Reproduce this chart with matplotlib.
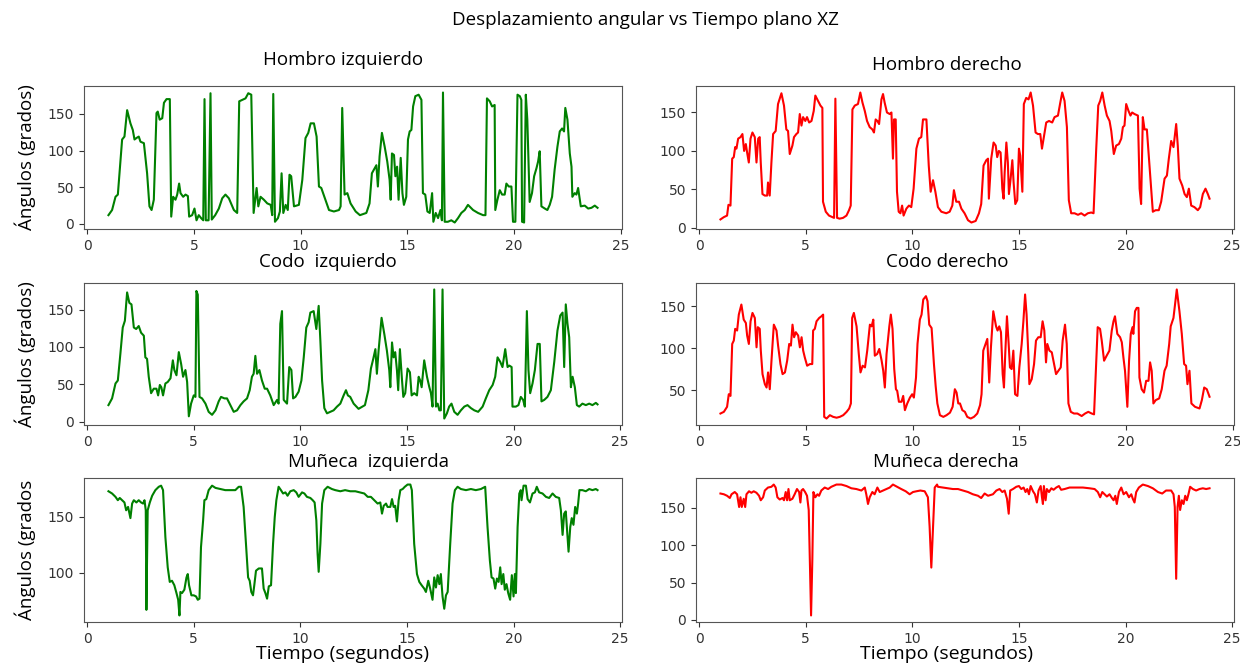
import numpy as np
import matplotlib
matplotlib.use("Agg")
import matplotlib.pyplot as plt
from matplotlib.ticker import MultipleLocator

# Hombro izquierdo
hi_t = [1.0, 1.17, 1.33, 1.44, 1.64, 1.75, 1.875, 2.03, 2.14, 2.22, 2.31, 2.42, 2.5, 2.66, 2.81, 2.92,
        3.02, 3.125, 3.25, 3.31, 3.4, 3.52, 3.6, 3.72, 3.875, 3.94, 4.03, 4.14, 4.22, 4.31, 4.375, 4.5,
        4.61, 4.72, 4.78, 4.92, 5.03, 5.125, 5.23, 5.34, 5.44, 5.5, 5.56, 5.69, 5.78, 5.84, 6.0, 6.17,
        6.33, 6.48, 6.64, 6.875, 7.03, 7.125, 7.27, 7.42, 7.55, 7.69, 7.8, 7.94, 8.02, 8.125, 8.28, 8.44,
        8.6, 8.67, 8.72, 8.8, 8.94, 9.03, 9.11, 9.19, 9.3, 9.4, 9.48, 9.56, 9.69, 9.92, 10.08, 10.23,
        10.36, 10.47, 10.625, 10.75, 10.86, 10.97, 11.14, 11.33, 11.56, 11.8, 11.875, 11.95, 12.06, 12.19,
        12.34, 12.58, 12.78, 13.08, 13.23, 13.34, 13.47, 13.55, 13.62, 13.7, 13.81, 13.94, 14.06, 14.17,
        14.22, 14.28, 14.375, 14.44, 14.52, 14.59, 14.69, 14.77, 14.84, 14.95, 15.03, 15.11, 15.19, 15.27,
        15.375, 15.53, 15.66, 15.73, 15.84, 15.94, 16.05, 16.16, 16.22, 16.33, 16.44, 16.55, 16.62, 16.67,
        16.75, 16.9, 17.06, 17.22, 17.375, 17.53, 17.69, 17.84, 18.08, 18.31, 18.55, 18.66, 18.73, 18.86,
        18.97, 19.09, 19.12, 19.22, 19.33, 19.44, 19.56, 19.64, 19.75, 19.875, 19.95, 20.06, 20.16, 20.27,
        20.34, 20.375, 20.47, 20.55, 20.62, 20.73, 20.84, 20.94, 21.05, 21.125, 21.2, 21.28, 21.44, 21.56,
        21.67, 21.78, 21.9, 22.03, 22.14, 22.25, 22.34, 22.4, 22.5, 22.61, 22.69, 22.73, 22.84, 22.92,
        23.0, 23.125, 23.31, 23.47, 23.625, 23.78, 23.91]
hi_v = [12, 19, 37, 40, 115, 119, 155, 137, 128, 115, 117, 119, 112, 110, 69, 24,
        19, 33, 151, 153, 142, 144, 165, 170, 170, 10, 37, 33, 40, 55, 42, 37,
        40, 38, 10, 12, 21, 5, 12, 8, 5, 170, 5, 5, 178, 6, 12, 21,
        35, 40, 35, 19, 15, 167, 169, 171, 178, 176, 15, 49, 24, 37, 33, 28,
        26, 12, 177, 3, 8, 17, 69, 15, 26, 19, 67, 65, 24, 26, 60, 117,
        124, 137, 137, 119, 51, 49, 35, 19, 17, 19, 24, 158, 40, 42,
        28, 17, 12, 15, 28, 69, 76, 80, 51, 92, 124, 105, 85, 60,
        33, 96, 94, 65, 78, 33, 90, 42, 26, 37, 115, 126, 128, 160,
        174, 176, 169, 42, 40, 17, 15, 42, 3, 15, 8, 19, 5, 179,
        3, 3, 5, 2, 8, 15, 19, 26, 19, 15, 12, 12, 171, 167,
        160, 162, 19, 33, 46, 40, 40, 55, 51, 51, 3, 3, 176, 174,
        169, 3, 2, 176, 142, 30, 42, 65, 76, 85, 99, 24, 21, 19,
        26, 37, 74, 105, 126, 130, 126, 158, 142, 96, 78, 37, 42, 40,
        49, 24, 25, 21, 22, 25, 22]

# Hombro derecho
hd_t = [1.0, 1.16, 1.31, 1.375, 1.47, 1.55, 1.625, 1.69, 1.75, 1.83, 1.94, 2.03, 2.11, 2.19, 2.25, 2.33,
        2.41, 2.5, 2.61, 2.69, 2.77, 2.84, 2.89, 2.97, 3.08, 3.19, 3.23, 3.31, 3.39, 3.47, 3.59, 3.7,
        3.86, 3.98, 4.09, 4.17, 4.25, 4.375, 4.45, 4.56, 4.64, 4.72, 4.8, 4.875, 4.98, 5.06, 5.16, 5.27,
        5.375, 5.45, 5.58, 5.69, 5.78, 5.81, 5.94, 6.09, 6.25, 6.33, 6.39, 6.47, 6.59, 6.75, 6.91, 7.03,
        7.11, 7.19, 7.3, 7.45, 7.56, 7.66, 7.77, 7.875, 8.0, 8.125, 8.2, 8.28, 8.36, 8.44, 8.55, 8.625,
        8.7, 8.81, 8.94, 9.02, 9.09, 9.14, 9.22, 9.28, 9.36, 9.44, 9.52, 9.59, 9.72, 9.84, 9.95, 10.06,
        10.19, 10.31, 10.42, 10.5, 10.66, 10.77, 10.86, 10.97, 11.08, 11.2, 11.36, 11.59, 11.75, 11.875,
        11.95, 12.06, 12.19, 12.3, 12.45, 12.61, 12.77, 12.97, 13.125, 13.23, 13.34, 13.47, 13.55, 13.59,
        13.7, 13.81, 13.91, 13.98, 14.06, 14.14, 14.22, 14.28, 14.33, 14.41, 14.48, 14.53, 14.61, 14.69,
        14.75, 14.83, 14.92, 15.0, 15.06, 15.16, 15.23, 15.34, 15.45, 15.55, 15.66, 15.78, 15.89, 16.0,
        16.08, 16.17, 16.28, 16.41, 16.56, 16.67, 16.83, 16.94, 17.03, 17.14, 17.25, 17.34, 17.45, 17.61,
        17.77, 17.92, 18.08, 18.23, 18.39, 18.5, 18.625, 18.72, 18.81, 18.91, 19.02, 19.125, 19.25, 19.33,
        19.45, 19.56, 19.69, 19.8, 19.875, 19.95, 20.03, 20.14, 20.23, 20.31, 20.42, 20.58, 20.66, 20.73,
        20.81, 20.89, 21.0, 21.09, 21.2, 21.28, 21.41, 21.56, 21.67, 21.83, 21.94, 22.03, 22.14, 22.25,
        22.375, 22.45, 22.53, 22.66, 22.77, 22.875, 22.97, 23.08, 23.23, 23.39, 23.5, 23.625, 23.75, 23.86,
        23.94]
hd_v = [11, 14, 16, 30, 29, 90, 92, 105, 103, 116, 118, 122, 100, 109, 98, 85,
        116, 124, 118, 85, 116, 118, 85, 44, 42, 42, 59, 42, 85, 122, 126, 161,
        175, 159, 128, 126, 96, 107, 118, 122, 124, 148, 133, 144, 139, 144, 137, 139,
        152, 172, 165, 159, 156, 34, 21, 16, 14, 13, 168, 13, 12, 13, 16, 23,
        29, 154, 159, 161, 176, 163, 152, 139, 131, 128, 124, 141, 139, 135, 167, 174,
        163, 150, 148, 150, 90, 141, 141, 47, 21, 19, 29, 16, 25, 29, 27, 51,
        103, 116, 118, 141, 141, 81, 47, 62, 47, 27, 21, 19, 21, 29,
        49, 34, 34, 25, 19, 10, 7, 9, 19, 31, 81, 88, 90, 38,
        90, 111, 107, 92, 100, 98, 51, 38, 72, 111, 85, 44, 64, 88,
        59, 31, 36, 103, 94, 47, 161, 169, 167, 176, 159, 124, 122, 122,
        103, 118, 137, 139, 137, 144, 146, 163, 176, 165, 131, 36, 19, 19,
        17, 19, 16, 19, 20, 19, 103, 159, 165, 176, 159, 146, 139, 126,
        96, 107, 109, 116, 131, 133, 161, 152, 146, 150, 148, 146, 51, 31,
        144, 128, 128, 94, 51, 21, 23, 23, 34, 64, 68, 90, 113, 105,
        135, 107, 64, 55, 44, 40, 51, 29, 27, 23, 27, 44, 51, 44,
        38]

# Codo izquierdo
ci_t = [1.0, 1.17, 1.33, 1.44, 1.56, 1.67, 1.77, 1.875, 1.98, 2.08, 2.19, 2.3, 2.42, 2.53, 2.66, 2.73,
        2.81, 2.89, 3.0, 3.125, 3.25, 3.33, 3.41, 3.48, 3.56, 3.67, 3.78, 3.91, 4.02, 4.09, 4.19, 4.3,
        4.41, 4.5, 4.61, 4.69, 4.77, 4.875, 5.0, 5.08, 5.125, 5.19, 5.27, 5.39, 5.55, 5.7, 5.86, 6.02,
        6.17, 6.28, 6.44, 6.56, 6.72, 6.875, 7.03, 7.19, 7.34, 7.5, 7.625, 7.73, 7.81, 7.89, 7.97, 8.08,
        8.2, 8.33, 8.44, 8.59, 8.75, 8.91, 8.98, 9.06, 9.14, 9.22, 9.375, 9.48, 9.58, 9.66, 9.77, 9.92,
        10.05, 10.16, 10.28, 10.39, 10.47, 10.625, 10.75, 10.86, 10.94, 11.02, 11.125, 11.25, 11.4, 11.56,
        11.72, 11.875, 12.03, 12.14, 12.23, 12.34, 12.5, 12.73, 13.03, 13.19, 13.31, 13.42, 13.52, 13.59,
        13.67, 13.81, 13.94, 14.06, 14.17, 14.22, 14.3, 14.375, 14.45, 14.53, 14.59, 14.67, 14.77, 14.83,
        14.92, 15.03, 15.14, 15.22, 15.34, 15.47, 15.55, 15.62, 15.69, 15.81, 15.94, 16.05, 16.125, 16.2,
        16.28, 16.36, 16.44, 16.52, 16.59, 16.67, 16.75, 16.875, 16.98, 17.09, 17.22, 17.375, 17.53, 17.69,
        17.84, 18.0, 18.16, 18.34, 18.55, 18.7, 18.86, 19.02, 19.14, 19.25, 19.375, 19.48, 19.61, 19.72,
        19.8, 19.91, 19.95, 20.11, 20.23, 20.34, 20.45, 20.53, 20.625, 20.7, 20.78, 20.89, 21.0, 21.125,
        21.23, 21.31, 21.44, 21.59, 21.75, 21.91, 22.06, 22.19, 22.3, 22.375, 22.45, 22.53, 22.61, 22.69,
        22.77, 22.875, 22.97, 23.08, 23.23, 23.39, 23.55, 23.7, 23.86, 23.94]
ci_v = [22, 31, 51, 55, 91, 126, 135, 173, 159, 157, 126, 124, 128, 119, 115, 86,
        84, 60, 38, 44, 44, 35, 49, 46, 35, 51, 53, 58, 82, 69, 62, 93,
        77, 60, 69, 53, 7, 24, 35, 33, 175, 170, 33, 31, 24, 13, 9, 15,
        27, 33, 31, 31, 22, 13, 15, 22, 27, 31, 42, 60, 64, 88, 64, 69,
        55, 44, 44, 35, 22, 29, 24, 131, 148, 29, 24, 73, 69, 31, 33, 40,
        55, 86, 126, 133, 146, 148, 124, 155, 108, 55, 18, 11, 13, 15,
        20, 24, 35, 42, 35, 33, 24, 17, 22, 42, 71, 84, 97, 64,
        95, 139, 117, 95, 69, 46, 106, 86, 93, 69, 42, 97, 55, 33,
        38, 71, 66, 35, 38, 35, 60, 55, 46, 82, 60, 46, 38, 20,
        177, 20, 24, 15, 15, 177, 4, 11, 20, 24, 13, 9, 15, 20,
        22, 18, 15, 13, 20, 31, 42, 49, 60, 86, 80, 73, 97, 73,
        75, 73, 20, 20, 22, 33, 29, 20, 148, 69, 38, 51, 69, 104,
        104, 27, 29, 33, 42, 80, 122, 142, 146, 73, 157, 131, 113, 46,
        60, 46, 22, 20, 24, 22, 24, 22, 25, 23]

# Codo derecho
cd_t = [1.0, 1.16, 1.31, 1.39, 1.47, 1.55, 1.625, 1.69, 1.78, 1.86, 1.98, 2.09, 2.19, 2.25, 2.33, 2.41,
        2.5, 2.61, 2.69, 2.75, 2.84, 2.89, 2.97, 3.08, 3.16, 3.23, 3.31, 3.39, 3.5, 3.625, 3.7, 3.81,
        3.91, 4.02, 4.125, 4.22, 4.3, 4.375, 4.45, 4.53, 4.64, 4.72, 4.8, 4.875, 4.95, 5.06, 5.19, 5.3,
        5.34, 5.42, 5.5, 5.625, 5.73, 5.81, 5.86, 5.97, 6.125, 6.28, 6.44, 6.59, 6.75, 6.91, 7.03, 7.11,
        7.17, 7.25, 7.375, 7.48, 7.56, 7.66, 7.77, 7.875, 8.0, 8.08, 8.16, 8.23, 8.34, 8.44, 8.55, 8.625,
        8.7, 8.78, 8.91, 8.98, 9.06, 9.14, 9.22, 9.28, 9.36, 9.48, 9.56, 9.64, 9.75, 9.875, 9.98, 10.06,
        10.16, 10.23, 10.34, 10.42, 10.5, 10.625, 10.7, 10.78, 10.89, 11.0, 11.08, 11.16, 11.28, 11.44,
        11.59, 11.75, 11.875, 11.98, 12.06, 12.14, 12.22, 12.33, 12.45, 12.56, 12.72, 12.875, 13.03, 13.16,
        13.23, 13.31, 13.39, 13.5, 13.59, 13.67, 13.78, 13.91, 13.98, 14.06, 14.14, 14.22, 14.28, 14.34,
        14.42, 14.5, 14.56, 14.64, 14.72, 14.8, 14.91, 15.0, 15.11, 15.19, 15.27, 15.34, 15.42, 15.47,
        15.58, 15.69, 15.78, 15.89, 16.0, 16.09, 16.17, 16.25, 16.31, 16.41, 16.52, 16.625, 16.72, 16.83,
        16.94, 17.03, 17.14, 17.22, 17.3, 17.41, 17.56, 17.72, 17.92, 18.08, 18.23, 18.39, 18.5, 18.59,
        18.67, 18.78, 18.86, 18.97, 19.09, 19.22, 19.33, 19.41, 19.48, 19.59, 19.72, 19.8, 19.875, 19.95,
        20.06, 20.14, 20.22, 20.3, 20.34, 20.42, 20.5, 20.58, 20.625, 20.73, 20.84, 20.94, 21.05, 21.125,
        21.2, 21.28, 21.39, 21.55, 21.67, 21.8, 21.9, 22.02, 22.09, 22.22, 22.375, 22.5, 22.61, 22.72,
        22.81, 22.875, 22.97, 23.06, 23.23, 23.44, 23.55, 23.66, 23.78, 23.91]
cd_v = [22, 24, 30, 45, 43, 105, 109, 123, 121, 140, 152, 134, 130, 115, 105, 132,
        142, 136, 101, 125, 123, 97, 69, 57, 53, 71, 51, 85, 128, 121, 103, 81,
        69, 71, 85, 105, 103, 128, 113, 119, 115, 101, 113, 97, 89, 79, 81, 81,
        121, 123, 132, 136, 138, 140, 18, 16, 20, 18, 17, 18, 20, 24, 28, 34,
        136, 142, 126, 93, 71, 79, 77, 97, 128, 126, 134, 91, 93, 99, 85, 73,
        53, 93, 126, 140, 123, 75, 51, 49, 36, 36, 43, 26, 34, 41, 45, 41,
        65, 105, 134, 140, 158, 162, 156, 128, 124, 81, 55, 34, 20, 18,
        20, 23, 30, 51, 47, 34, 34, 26, 24, 18, 16, 18, 22, 32,
        45, 97, 103, 111, 59, 101, 144, 126, 121, 126, 119, 69, 53, 93,
        138, 105, 77, 75, 97, 45, 43, 77, 105, 132, 164, 140, 93, 57,
        63, 81, 109, 113, 113, 132, 121, 83, 105, 97, 95, 81, 69, 73,
        77, 109, 128, 105, 34, 24, 22, 22, 19, 22, 24, 22, 21, 77,
        125, 123, 109, 85, 91, 97, 121, 132, 138, 117, 113, 107, 89, 73,
        30, 85, 117, 125, 117, 144, 148, 148, 65, 51, 47, 61, 61, 83,
        73, 34, 38, 40, 51, 73, 79, 105, 126, 136, 170, 144, 117, 81,
        79, 57, 73, 34, 30, 28, 38, 53, 51, 42]

# Muñeca izquierda
mi_t = [1.0, 1.17, 1.33, 1.44, 1.53, 1.64, 1.75, 1.83, 1.92, 2.03, 2.11, 2.19, 2.31, 2.42, 2.53, 2.625,
        2.69, 2.75, 2.78, 2.84, 2.94, 3.05, 3.2, 3.36, 3.47, 3.56, 3.67, 3.78, 3.875, 3.98, 4.09, 4.19,
        4.27, 4.33, 4.375, 4.45, 4.56, 4.66, 4.72, 4.78, 4.89, 5.0, 5.11, 5.19, 5.27, 5.34, 5.44, 5.5,
        5.59, 5.7, 5.86, 6.02, 6.25, 6.48, 6.72, 6.95, 7.11, 7.22, 7.34, 7.45, 7.55, 7.625, 7.7, 7.78,
        7.84, 7.92, 8.05, 8.2, 8.28, 8.36, 8.44, 8.52, 8.625, 8.72, 8.8, 8.875, 8.98, 9.09, 9.19, 9.3,
        9.4, 9.53, 9.69, 9.81, 9.92, 10.08, 10.19, 10.31, 10.47, 10.58, 10.67, 10.75, 10.81, 10.86,
        10.94, 11.02, 11.125, 11.28, 11.48, 11.64, 11.875, 12.1, 12.34, 12.58, 12.78, 13.0, 13.16, 13.31,
        13.47, 13.625, 13.75, 13.83, 13.91, 14.02, 14.09, 14.22, 14.3, 14.375, 14.45, 14.53, 14.61, 14.69,
        14.8, 14.9, 15.03, 15.16, 15.23, 15.34, 15.47, 15.58, 15.69, 15.81, 15.89, 16.0, 16.09, 16.2,
        16.28, 16.36, 16.44, 16.52, 16.59, 16.67, 16.75, 16.83, 16.91, 17.03, 17.14, 17.25, 17.375, 17.53,
        17.77, 18.0, 18.23, 18.47, 18.67, 18.78, 18.89, 18.97, 19.06, 19.14, 19.22, 19.3, 19.375, 19.44,
        19.52, 19.59, 19.67, 19.75, 19.84, 19.92, 20.0, 20.06, 20.11, 20.19, 20.27, 20.34, 20.375, 20.47,
        20.58, 20.66, 20.77, 20.89, 21.0, 21.09, 21.2, 21.36, 21.52, 21.67, 21.83, 21.98, 22.14, 22.22,
        22.3, 22.375, 22.45, 22.53, 22.58, 22.66, 22.73, 22.81, 22.89, 22.97, 23.03, 23.09, 23.23, 23.39,
        23.55, 23.7, 23.86, 23.94]
mi_v = [173, 171, 168, 165, 167, 165, 163, 156, 159, 149, 162, 165, 163, 165, 163, 162,
        165, 156, 67, 156, 163, 169, 174, 177, 178, 174, 132, 105, 92, 93, 89, 82,
        76, 62, 83, 82, 85, 96, 99, 89, 80, 80, 79, 76, 77, 123, 147, 165,
        166, 174, 178, 176, 175, 174, 174, 174, 177, 177, 159, 126, 96, 93, 83, 80,
        89, 102, 104, 104, 86, 82, 77, 88, 89, 126, 150, 165, 177, 174, 171, 172,
        169, 173, 174, 172, 168, 172, 171, 168, 167, 165, 163, 147, 117, 101,
        126, 162, 174, 177, 175, 174, 173, 174, 173, 173, 172, 171, 168, 168,
        165, 162, 163, 153, 160, 162, 159, 159, 166, 159, 160, 146, 165, 174,
        175, 177, 179, 179, 174, 126, 99, 92, 89, 86, 83, 93, 86, 76,
        96, 87, 98, 90, 99, 79, 68, 80, 83, 126, 162, 174, 177, 175,
        174, 175, 174, 175, 177, 141, 111, 96, 95, 86, 95, 92, 105, 90,
        99, 85, 90, 82, 76, 98, 79, 99, 82, 141, 171, 174, 165, 178,
        178, 166, 163, 171, 172, 177, 172, 171, 168, 167, 171, 168, 167, 156,
        134, 153, 155, 132, 119, 141, 149, 143, 159, 153, 162, 174, 174, 173,
        175, 174, 175, 174]

# Muñeca derecha
md_t = [1.0, 1.16, 1.31, 1.44, 1.52, 1.67, 1.78, 1.875, 1.94, 2.0, 2.09, 2.16, 2.22, 2.34, 2.45, 2.56,
        2.69, 2.81, 2.89, 3.0, 3.08, 3.23, 3.39, 3.5, 3.59, 3.67, 3.78, 3.91, 3.98, 4.06, 4.125, 4.19,
        4.25, 4.375, 4.48, 4.59, 4.69, 4.75, 4.8, 4.875, 4.97, 5.06, 5.14, 5.19, 5.25, 5.31, 5.36, 5.45,
        5.55, 5.625, 5.73, 5.89, 6.05, 6.2, 6.44, 6.67, 6.91, 7.14, 7.375, 7.61, 7.77, 7.84, 7.92, 8.0,
        8.125, 8.23, 8.36, 8.47, 8.625, 8.78, 8.94, 9.09, 9.28, 9.48, 9.69, 9.875, 10.03, 10.19, 10.375,
        10.58, 10.73, 10.81, 10.89, 10.97, 11.05, 11.16, 11.2, 11.44, 11.67, 11.9, 12.14, 12.375, 12.61,
        12.84, 13.08, 13.23, 13.39, 13.55, 13.78, 13.94, 14.09, 14.22, 14.33, 14.44, 14.52, 14.59, 14.72,
        14.875, 15.0, 15.11, 15.22, 15.31, 15.39, 15.47, 15.55, 15.66, 15.75, 15.84, 15.92, 16.02, 16.08,
        16.125, 16.17, 16.25, 16.31, 16.41, 16.52, 16.625, 16.75, 16.875, 16.98, 17.14, 17.375, 17.69,
        18.0, 18.31, 18.55, 18.7, 18.81, 18.91, 19.02, 19.125, 19.25, 19.36, 19.44, 19.52, 19.59, 19.69,
        19.8, 19.91, 20.03, 20.16, 20.27, 20.34, 20.42, 20.5, 20.625, 20.81, 21.05, 21.28, 21.52, 21.72,
        21.9, 22.14, 22.25, 22.31, 22.375, 22.44, 22.5, 22.56, 22.64, 22.72, 22.8, 22.875, 22.95, 23.03,
        23.16, 23.31, 23.47, 23.625, 23.78, 23.94]
md_v = [169, 168, 166, 163, 168, 171, 168, 151, 164, 151, 162, 151, 168, 172, 170, 172,
        170, 166, 160, 164, 173, 177, 178, 181, 177, 164, 161, 163, 160, 171, 160, 175,
        160, 162, 168, 175, 171, 157, 173, 175, 171, 166, 147, 81, 6, 81, 171, 164,
        168, 166, 173, 177, 175, 178, 181, 181, 179, 176, 175, 173, 177, 168, 155, 164,
        171, 168, 177, 171, 173, 175, 177, 181, 178, 175, 172, 168, 171, 172, 173,
        172, 164, 125, 70, 125, 177, 181, 178, 177, 176, 175, 175, 173, 171,
        168, 166, 163, 169, 166, 168, 173, 175, 171, 173, 162, 142, 173, 175,
        178, 179, 175, 177, 171, 175, 168, 179, 172, 168, 157, 173, 179, 164,
        155, 179, 160, 175, 171, 176, 174, 177, 179, 174, 175, 177, 177,
        177, 176, 175, 171, 164, 171, 168, 165, 168, 163, 160, 166, 155, 171,
        177, 168, 171, 164, 168, 162, 157, 171, 177, 181, 179, 176, 171, 169,
        173, 173, 168, 151, 55, 151, 166, 147, 160, 155, 166, 160, 168, 178,
        175, 173, 175, 176, 175, 176]

titles = ["Hombro izquierdo", "Hombro derecho", "Codo  izquierdo", "Codo derecho",
          "Muñeca  izquierda", "Muñeca derecha"]
suptitle = "Desplazamiento angular vs Tiempo plano XZ"
ylabels = ["Ángulos (grados)", "Ángulos (grados)", "Ángulos (grados"]
xlabel = "Tiempo (segundos)"

W, H = 1240, 664
TXT = "Open Sans"


def px_axes(fig, left, top, right, bottom):
    return fig.add_axes([left / W, 1 - bottom / H, (right - left) / W, (bottom - top) / H])


def draw(ax, t, v, color):
    ax.plot(t, v, color=color, lw=1.5)
    ax.set_xticks([0, 5, 10, 15, 20, 25])
    ax.yaxis.set_major_locator(MultipleLocator(50))
    ax.tick_params(labelsize=10, colors="#333333")
    for s in ax.spines.values():
        s.set_color("#555555")


def main():
    fig = plt.figure(figsize=(W / 100, H / 100), dpi=100)

    rows = [(86, 229), (283, 425), (478, 622)]
    cols = [(84, 622), (696, 1234)]
    series = [(hi_t, hi_v), (hd_t, hd_v), (ci_t, ci_v), (cd_t, cd_v), (mi_t, mi_v), (md_t, md_v)]
    title_pos = [(343, 60), (947, 65), (328, 262), (947, 262), (368, 462), (946, 462)]

    for i, (t, v) in enumerate(series):
        r, c = divmod(i, 2)
        ax = px_axes(fig, cols[c][0], rows[r][0], cols[c][1], rows[r][1])
        draw(ax, t, v, "green" if c == 0 else "red")
        tx, ty = title_pos[i]
        fig.text(tx / W, 1 - ty / H, titles[i], ha="center", va="center",
                 fontsize=13.5, family=TXT)
        if c == 0:
            fig.text(25 / W, 1 - (rows[r][0] + rows[r][1]) / 2 / H, ylabels[r],
                     rotation=90, ha="center", va="center", fontsize=13.5, family=TXT)
        if r == 2:
            fig.text((343 if c == 0 else 946) / W, 1 - 654 / H, xlabel,
                     ha="center", va="center", fontsize=14, family=TXT)

    fig.text(645 / W, 1 - 20 / H, suptitle, ha="center", va="center", fontsize=13.5, family=TXT)
    fig.savefig("out.png", dpi=100)


if __name__ == "__main__":
    main()
